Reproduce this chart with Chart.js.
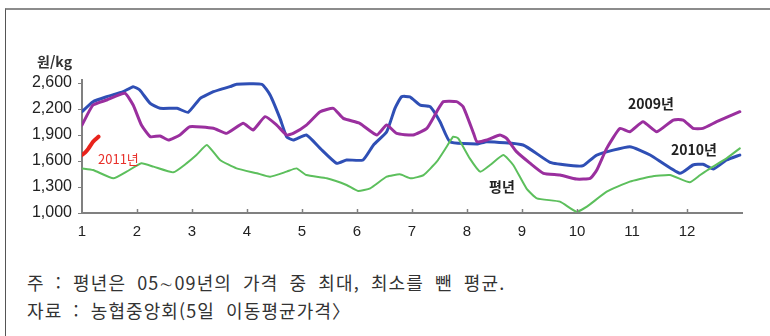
<!DOCTYPE html>
<html lang="ko">
<head>
<meta charset="utf-8">
<script src="https://cdn.jsdelivr.net/npm/chart.js@4.4.1/dist/chart.umd.min.js"></script>
<style>
  html, body { margin: 0; padding: 0; background: #fff; }
  body { width: 770px; height: 336px; position: relative; overflow: hidden;
         font-family: "Noto Sans CJK KR", "Noto Sans", sans-serif; }
  #frame { position: absolute; left: 5px; top: 8px; width: 800px; height: 400px;
           border-top: 2px solid #8c8c8c; border-left: 1px solid #555; }
  #chartWrap { position: absolute; left: 0; top: 0; width: 770px; height: 240px; }
  .lbl { position: absolute; white-space: nowrap; color: #222; line-height: 1; }
  .note { position: absolute; left: 27px; font-size: 18px; letter-spacing: 1.1px; word-spacing: 5px;
          color: #333; white-space: nowrap; line-height: 1; }
</style>
</head>
<body>
<div id="frame"></div>
<div id="chartWrap"><canvas id="c" width="770" height="240"></canvas></div>

<div class="lbl" style="left:37px; top:54px; font-size:14px; font-weight:bold; color:#333;">원/kg</div>
<div class="lbl" style="left:98px; top:152px; font-size:13px; color:#e8302a;">2011년</div>
<div class="lbl" style="left:628px; top:96px; font-size:14px; font-weight:bold;">2009년</div>
<div class="lbl" style="left:671px; top:142px; font-size:14px; font-weight:bold;">2010년</div>
<div class="lbl" style="left:489px; top:179px; font-size:14px; font-weight:bold;">평년</div>

<div class="note" style="top:273px;">주 : 평년은 05∼09년의 가격 중 최대, 최소를 뺀 평균.</div>
<div class="note" style="top:301px;">자료 : 농협중앙회(5일 이동평균가격〉</div>

<script>
// Month ticks and price axis labels
const monthLabels = ['1','2','3','4','5','6','7','8','9','10','11','12'];
const priceLabels = ['1,000','1,300','1,600','1,900','2,200','2,600'];

// 2011 (early January)
const x2011 = [1.0, 1.06, 1.12, 1.2, 1.3];
const y2011 = [1669, 1700, 1746, 1823, 1881];

// 2010
const x2010 = [1.0,1.2,1.45,1.75,1.93,2.05,2.24,2.42,2.73,2.93,3.15,3.39,3.69,3.81,4.27,4.42,4.6,4.72,4.84,5.08,5.33,5.63,5.81,6.11,6.3,6.54,6.69,6.81,6.96,7.15,7.33,7.51,7.69,8.18,8.36,9.02,9.51,9.93,10.11,10.36,10.96,11.33,11.87,12.11,12.29,12.48,12.72,12.96];
const y2010 = [2170,2285,2342,2400,2458,2419,2265,2208,2208,2162,2323,2400,2458,2485,2485,2362,2092,1881,1842,1900,1746,1573,1612,1612,1785,1938,2208,2342,2340,2246,2227,2054,1823,1796,1823,1785,1585,1546,1546,1669,1765,1669,1458,1554,1562,1508,1612,1669];

// 2009
const x2009 = [1.0,1.2,1.45,1.78,1.93,2.08,2.24,2.42,2.57,2.78,2.96,3.39,3.63,3.93,4.11,4.33,4.54,4.72,4.84,5.08,5.33,5.57,5.75,6.05,6.36,6.54,6.72,7.02,7.27,7.45,7.57,7.81,7.93,8.12,8.18,8.36,8.6,8.72,8.9,9.15,9.39,9.69,9.99,10.24,10.36,10.54,10.78,10.96,11.2,11.45,11.75,11.93,12.11,12.29,12.54,12.96];
const y2009 = [2015,2246,2304,2381,2246,2015,1881,1889,1842,1900,1996,1977,1919,2035,1958,2112,2015,1900,1919,2015,2169,2208,2092,2035,1900,2015,1919,1900,1977,2169,2285,2285,2227,1919,1823,1842,1900,1861,1708,1573,1458,1438,1392,1400,1496,1746,1977,1938,2054,1938,2073,2073,1977,1977,2054,2169];

// 평년 (2005-2009 average excluding max/min)
const xAvg = [1.0,1.2,1.57,1.81,2.08,2.3,2.66,2.9,3.08,3.27,3.51,3.81,4.18,4.42,4.72,4.9,5.08,5.45,5.81,6.02,6.24,6.54,6.78,6.98,7.21,7.45,7.63,7.75,7.84,8.05,8.24,8.42,8.66,8.84,9.08,9.27,9.69,9.99,10.18,10.54,10.96,11.33,11.69,12.05,12.24,12.42,12.72,12.96];
const yAvg = [1515,1496,1400,1477,1573,1535,1469,1573,1669,1785,1612,1515,1458,1419,1477,1515,1438,1400,1323,1254,1285,1419,1446,1400,1438,1592,1765,1881,1861,1631,1477,1554,1669,1554,1285,1169,1131,1015,1073,1246,1362,1419,1438,1354,1438,1515,1631,1746];

const pts = (xs, ys) => xs.map((x, i) => ({ x, y: ys[i] }));

// small inward tick marks along the month axis
const monthTicks = {
  id: 'monthTicks',
  afterDraw(chart) {
    const xs = chart.scales.x, ctx = chart.ctx, bottom = chart.chartArea.bottom;
    ctx.save();
    ctx.strokeStyle = '#808080';
    ctx.lineWidth = 1.5;
    for (let m = 2; m <= 12; m++) {
      const px = Math.round(xs.getPixelForValue(m)) + 0.5;
      ctx.beginPath();
      ctx.moveTo(px, bottom);
      ctx.lineTo(px, bottom - 4);
      ctx.stroke();
    }
    ctx.restore();
  }
};

new Chart(document.getElementById('c'), {
  type: 'line',
  data: {
    datasets: [
      { label: '평년', data: pts(xAvg, yAvg), borderColor: '#5cbf5c', borderWidth: 2 },
      { label: '2009년', data: pts(x2009, y2009), borderColor: '#9a2f9e', borderWidth: 3 },
      { label: '2010년', data: pts(x2010, y2010), borderColor: '#2f4fb5', borderWidth: 3 },
      { label: '2011년', data: pts(x2011, y2011), borderColor: '#e8231c', borderWidth: 4 }
    ]
  },
  options: {
    responsive: false,
    animation: false,
    devicePixelRatio: 1,
    elements: { point: { radius: 0 }, line: { tension: 0.15, borderCapStyle: 'round' } },
    layout: { padding: { left: 0, top: 80, right: 28, bottom: 0 } },
    plugins: { legend: { display: false }, tooltip: { enabled: false } },
    scales: {
      x: {
        type: 'linear', min: 1, max: 13,
        afterFit(scale) { scale.height = 27; },
        border: { display: true, color: '#808080', width: 2 },
        grid: { display: true, drawOnChartArea: false, drawTicks: false },
        ticks: {
          stepSize: 1, padding: 10, color: '#222',
          font: { family: 'Liberation Sans, Arial, sans-serif', size: 15 },
          maxRotation: 0, autoSkip: false,
          callback: v => (v >= 1 && v <= 12) ? monthLabels[v - 1] : ''
        }
      },
      y: {
        type: 'linear', min: 1000, max: 2535,
        afterFit(scale) { scale.width = 82; },
        afterBuildTicks(scale) {
          scale.ticks = priceLabels.map((_, i) => ({ value: 1000 + i * 300 }));
        },
        border: { display: true, color: '#808080', width: 2 },
        grid: { display: true, drawOnChartArea: false, tickLength: 4, color: '#808080' },
        ticks: {
          padding: 6, color: '#222',
          font: { family: 'Liberation Sans, Arial, sans-serif', size: 16 },
          callback: (v, i) => priceLabels[i]
        }
      }
    }
  },
  plugins: [monthTicks]
});
</script>
</body>
</html>
